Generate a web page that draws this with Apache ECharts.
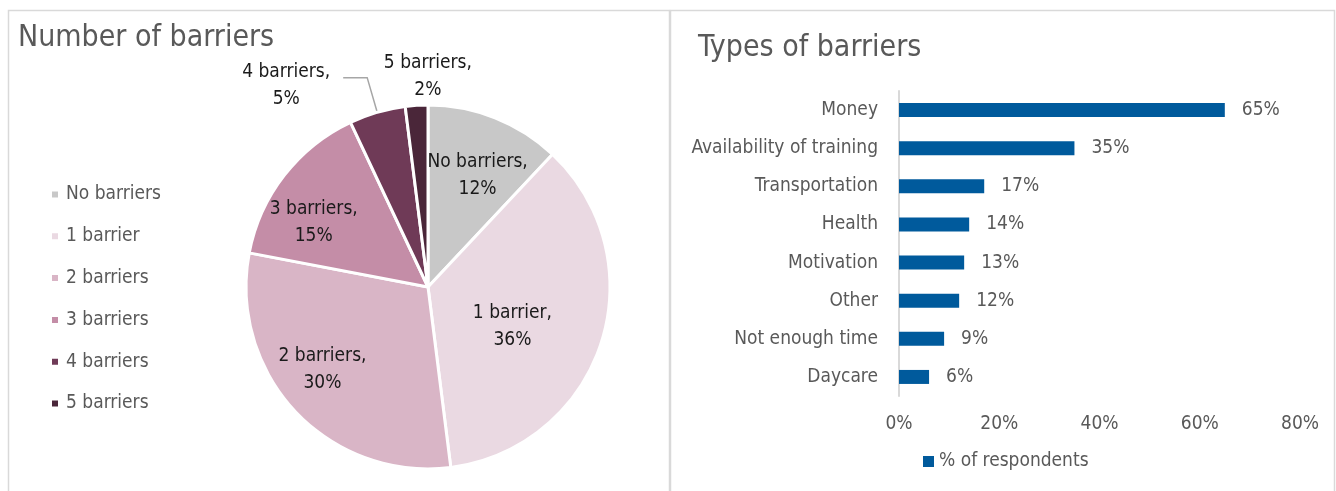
<!DOCTYPE html>
<html>
<head>
<meta charset="utf-8">
<script src="https://cdn.jsdelivr.net/npm/echarts@6/dist/echarts.min.js"></script>
<style>
  html, body { margin: 0; padding: 0; background: #fff; }
  #main { width: 1336px; height: 491px; }
</style>
</head>
<body>
<div id="main"></div>
<script>
const FONT = '"Liberation Sans Narrow", "DejaVu Sans Condensed", sans-serif';

// pie: number of barriers
const pieNames = ['No barriers', '1 barrier', '2 barriers', '3 barriers', '4 barriers', '5 barriers'];
const pieValues = [12, 36, 30, 15, 5, 2];
const pieColors = ['#c8c8c8', '#ead9e2', '#d9b5c6', '#c48da7', '#6f3a57', '#4a2639'];

// bar: types of barriers
const barCategories = ['Money', 'Availability of training', 'Transportation', 'Health',
    'Motivation', 'Other', 'Not enough time', 'Daycare'];
const barValues = [65, 35, 17, 14, 13, 12, 9, 6];

// nudges for the pie labels (Excel "best fit" places them off the mid radius)
const labelNudge = [[15, -24], [-5, 11], [-37, 18], [-40, -7], [-8, 8], [69, -17]];
const lineLen = [[12, 8], [12, 8], [12, 8], [12, 8], [36, 24], [12, 8]];

const chart = echarts.init(document.getElementById('main'));

const option = {
    backgroundColor: '#fff',
    textStyle: { fontFamily: FONT },
    graphic: [
        { type: 'rect', shape: { x: 8.5, y: 10.5, width: 661, height: 490 },
          style: { fill: 'none', stroke: '#d9d9d9', lineWidth: 1.5 }, silent: true },
        { type: 'rect', shape: { x: 670.5, y: 10.5, width: 664, height: 490 },
          style: { fill: 'none', stroke: '#d9d9d9', lineWidth: 1.5 }, silent: true }
    ],
    title: [
        { text: 'Number of barriers', left: 13, top: 18,
          textStyle: { fontFamily: FONT, fontSize: 30, fontWeight: 'normal', color: '#595959' } },
        { text: 'Types of barriers', left: 693, top: 28,
          textStyle: { fontFamily: FONT, fontSize: 30, fontWeight: 'normal', color: '#595959' } }
    ],
    legend: [
        {
            data: pieNames,
            orient: 'vertical',
            left: 45, top: 179,
            icon: 'rect', itemWidth: 8, itemHeight: 8, itemGap: 20.8,
            textStyle: { fontFamily: FONT, fontSize: 19, color: '#595959', lineHeight: 21, padding: [0, 0, 0, 2] }
        },
        {
            data: ['% of respondents'],
            left: 918, top: 447,
            icon: 'rect', itemWidth: 11, itemHeight: 11,
            textStyle: { fontFamily: FONT, fontSize: 19, color: '#595959' }
        }
    ],
    grid: { left: 899, right: 36, top: 91, bottom: 95 },
    xAxis: {
        type: 'value', min: 0, max: 80, interval: 20,
        axisLine: { show: false }, axisTick: { show: false }, splitLine: { show: false },
        axisLabel: { formatter: '{value}%', fontFamily: FONT, fontSize: 19, color: '#595959', margin: 19 }
    },
    yAxis: {
        type: 'category', data: barCategories, inverse: true,
        axisLine: { lineStyle: { color: '#d9d9d9', width: 2 } },
        axisTick: { show: false },
        axisLabel: { fontFamily: FONT, fontSize: 19, color: '#595959', margin: 21 }
    },
    series: [
        {
            name: 'Number of barriers',
            type: 'pie',
            center: [428, 287],
            radius: 182,
            startAngle: 90,
            clockwise: true,
            avoidLabelOverlap: false,
            data: pieNames.map((n, i) => ({
                name: n, value: pieValues[i],
                itemStyle: { color: pieColors[i] },
                label: { position: i >= 4 ? 'outside' : 'inside' },
                labelLine: {
                    show: i === 4, length: lineLen[i][0], length2: lineLen[i][1],
                    lineStyle: { color: '#a6a6a6', width: 1.5 }
                }
            })),
            itemStyle: { borderColor: '#fff', borderWidth: 3 },
            label: {
                formatter: '{t|{b},}\n{t|{c}%}',
                rich: {
                    t: { fontFamily: FONT, fontSize: 19, color: '#1a1a1a', lineHeight: 27, align: 'center' }
                }
            },
            labelLayout: function (p) {
                const d = labelNudge[p.dataIndex];
                return { dx: d[0], dy: d[1] };
            },
            emphasis: { disabled: true }
        },
        {
            name: '% of respondents',
            type: 'bar',
            data: barValues,
            barWidth: 14,
            itemStyle: { color: '#005a9c' },
            label: {
                show: true, position: 'right', distance: 17, formatter: '{c}%',
                fontFamily: FONT, fontSize: 19, color: '#595959'
            }
        }
    ]
};

chart.setOption(option);
</script>
</body>
</html>
